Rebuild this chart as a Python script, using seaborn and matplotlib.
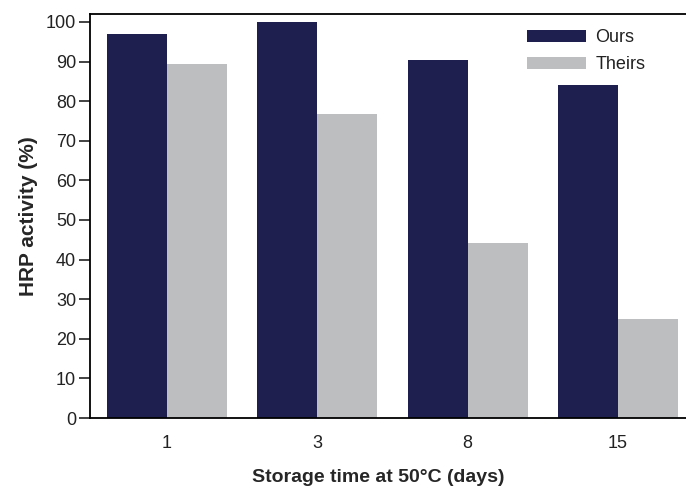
import numpy as np
import pandas as pd
import matplotlib
matplotlib.use("Agg")
import matplotlib.pyplot as plt
import seaborn as sns

# ── Data ──────────────────────────────────────────────
days = ["1", "3", "8", "15"]
ours = [97.0, 100.0, 90.4, 84.1]
theirs = [89.4, 76.8, 44.2, 25.0]
series = ["Ours", "Theirs"]

PALETTE = {"Ours": "#1e1f4e", "Theirs": "#bdbec0"}

df = pd.DataFrame({
    "days": days * 2,
    "activity": ours + theirs,
    "series": ["Ours"] * len(days) + ["Theirs"] * len(days),
})

sns.set_style("ticks")
plt.rcParams["font.family"] = ["Liberation Sans", "DejaVu Sans"]
plt.rcParams["text.color"] = "#222222"

fig = plt.figure(figsize=(6.86, 4.86), dpi=100)
ax = fig.add_axes([90 / 686, 68 / 486, 605 / 686, 404 / 486])

sns.barplot(data=df, x="days", y="activity", hue="series", order=days,
            hue_order=series, palette=PALETTE, width=0.8, saturation=1,
            edgecolor="none", ax=ax)

ax.set_xlim(-0.513, 3.513)
ax.set_ylim(0, 102)
ax.set_yticks(np.arange(0, 101, 10))
ax.tick_params(axis="y", length=8, width=1.2, labelsize=13, colors="#222222", pad=2)
ax.tick_params(axis="x", length=0, labelsize=13, colors="#222222", pad=12)
for s in ax.spines.values():
    s.set_linewidth(1.3)
    s.set_color("black")

ax.set_ylabel("HRP activity (%)", fontsize=15, fontweight="bold", labelpad=6)
ax.set_xlabel("Storage time at 50°C (days)", fontsize=14, fontweight="bold")
ax.xaxis.set_label_coords(0.477, -0.125)

leg = ax.legend(loc="upper right", bbox_to_anchor=(0.945, 1.0025), frameon=False,
                fontsize=13, handlelength=3.3, handleheight=0.7,
                handletextpad=0.5, labelspacing=0.55)

fig.savefig("out.png", dpi=100)
